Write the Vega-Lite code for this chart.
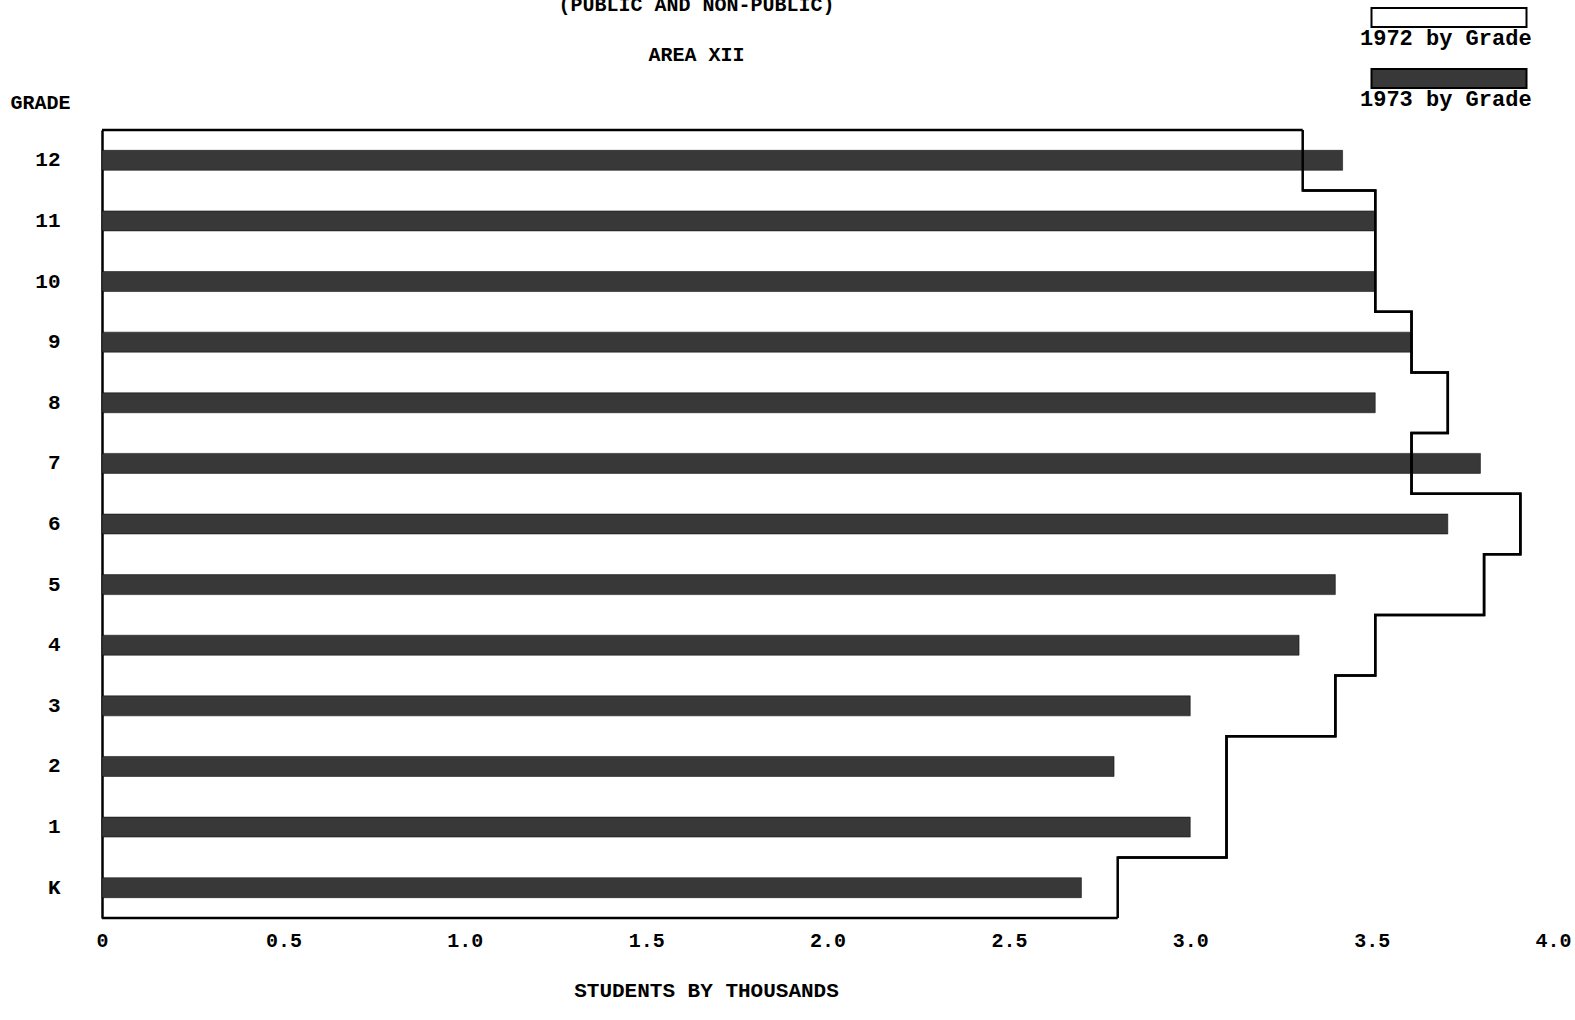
{
  "$schema": "https://vega.github.io/schema/vega-lite/v6.json",
  "width": 1451,
  "height": 788,
  "autosize": "none",
  "padding": {"left": 102, "top": 130, "right": 22, "bottom": 102},
  "background": "white",
  "config": {"view": {"stroke": null}, "font": "Liberation Mono"},
  "title": {
    "text": ["(PUBLIC AND NON-PUBLIC)", "AREA XII"],
    "anchor": "middle",
    "frame": "group",
    "dx": -131,
    "fontSize": 20,
    "fontWeight": "bold",
    "font": "Liberation Mono",
    "color": "black",
    "lineHeight": 50,
    "offset": -38
  },
  "data": {
    "values": [
      {"grade": "12", "y1972": 3.31, "y1973": 3.42},
      {"grade": "11", "y1972": 3.51, "y1973": 3.51},
      {"grade": "10", "y1972": 3.51, "y1973": 3.51},
      {"grade": "9", "y1972": 3.61, "y1973": 3.61},
      {"grade": "8", "y1972": 3.71, "y1973": 3.51},
      {"grade": "7", "y1972": 3.61, "y1973": 3.8},
      {"grade": "6", "y1972": 3.91, "y1973": 3.71},
      {"grade": "5", "y1972": 3.81, "y1973": 3.4},
      {"grade": "4", "y1972": 3.51, "y1973": 3.3},
      {"grade": "3", "y1972": 3.4, "y1973": 3.0},
      {"grade": "2", "y1972": 3.1, "y1973": 2.79},
      {"grade": "1", "y1972": 3.1, "y1973": 3.0},
      {"grade": "K", "y1972": 2.8, "y1973": 2.7}
    ]
  },
  "layer": [
    {
      "mark": {"type": "bar", "size": 20, "stroke": "black", "strokeWidth": 0.5},
      "encoding": {
        "x": {
          "field": "y1973",
          "type": "quantitative",
          "scale": {"domain": [0, 4], "nice": false, "zero": true},
          "axis": {
            "values": [0, 0.5, 1, 1.5, 2, 2.5, 3, 3.5, 4],
            "labelExpr": "datum.value == 0 ? '0' : format(datum.value, '.1f')",
            "domain": false,
            "ticks": false,
            "grid": false,
            "labelPadding": 12,
            "labelFontSize": 20,
            "labelFont": "Liberation Mono",
            "labelFontWeight": "bold",
            "labelColor": "black",
            "labelFlush": false,
            "title": "STUDENTS BY THOUSANDS",
            "titleFont": "Liberation Mono",
            "titleFontSize": 21,
            "titleFontWeight": "bold",
            "titleColor": "black",
            "titleX": 604,
            "titleY": 72,
            "titleAlign": "center",
            "titleBaseline": "middle"
          }
        },
        "y": {
          "field": "grade",
          "type": "ordinal",
          "sort": ["12", "11", "10", "9", "8", "7", "6", "5", "4", "3", "2", "1", "K"],
          "scale": {"paddingInner": 0, "paddingOuter": 0},
          "axis": {
            "title": "GRADE",
            "titleAngle": 0,
            "titleX": -92,
            "titleY": -28,
            "titleAlign": "left",
            "titleBaseline": "middle",
            "titleFont": "Liberation Mono",
            "titleFontSize": 20,
            "titleFontWeight": "bold",
            "titleColor": "black",
            "labelFont": "Liberation Mono",
            "labelFontSize": 21,
            "labelFontWeight": "bold",
            "labelColor": "black",
            "labelPadding": 42,
            "ticks": false,
            "domain": true,
            "domainColor": "black",
            "domainWidth": 2.5
          }
        },
        "fill": {
          "datum": "1973 by Grade",
          "type": "nominal",
          "scale": {"domain": ["1972 by Grade", "1973 by Grade"], "range": ["white", "#383838"]},
          "legend": {
            "title": null,
            "orient": "none",
            "legendX": 1336,
            "legendY": -103,
            "direction": "vertical",
            "symbolType": "M-7.75,-3H7.75V-1.1H-7.75Z",
            "symbolSize": 400,
            "symbolStrokeColor": "black",
            "symbolStrokeWidth": 2,
            "labelFont": "Liberation Mono",
            "labelFontSize": 22,
            "labelFontWeight": "bold",
            "labelColor": "black",
            "labelOffset": -100,
            "labelLimit": 300,
            "rowPadding": 16,
            "padding": 0
          }
        }
      }
    },
    {
      "mark": {"type": "line", "interpolate": "step-before", "color": "black", "strokeWidth": 2.5},
      "encoding": {
        "x": {"field": "y1972", "type": "quantitative"},
        "y": {"field": "grade", "type": "ordinal", "sort": ["12", "11", "10", "9", "8", "7", "6", "5", "4", "3", "2", "1", "K"], "bandPosition": 0}
      }
    },
    {
      "mark": {"type": "line", "interpolate": "step-after", "color": "black", "strokeWidth": 2.5},
      "encoding": {
        "x": {"field": "y1972", "type": "quantitative"},
        "y": {"field": "grade", "type": "ordinal", "sort": ["12", "11", "10", "9", "8", "7", "6", "5", "4", "3", "2", "1", "K"], "bandPosition": 1}
      }
    },
    {
      "transform": [{"filter": "datum.grade == '12'"}],
      "mark": {"type": "rule", "color": "black", "strokeWidth": 2.5},
      "encoding": {
        "x": {"field": "y1972", "type": "quantitative"},
        "y": {"field": "grade", "type": "ordinal", "sort": ["12", "11", "10", "9", "8", "7", "6", "5", "4", "3", "2", "1", "K"], "bandPosition": 0}
      }
    },
    {
      "transform": [{"filter": "datum.grade == 'K'"}],
      "mark": {"type": "rule", "color": "black", "strokeWidth": 2.5},
      "encoding": {
        "x": {"field": "y1972", "type": "quantitative"},
        "y": {"field": "grade", "type": "ordinal", "sort": ["12", "11", "10", "9", "8", "7", "6", "5", "4", "3", "2", "1", "K"], "bandPosition": 1}
      }
    }
  ]
}
